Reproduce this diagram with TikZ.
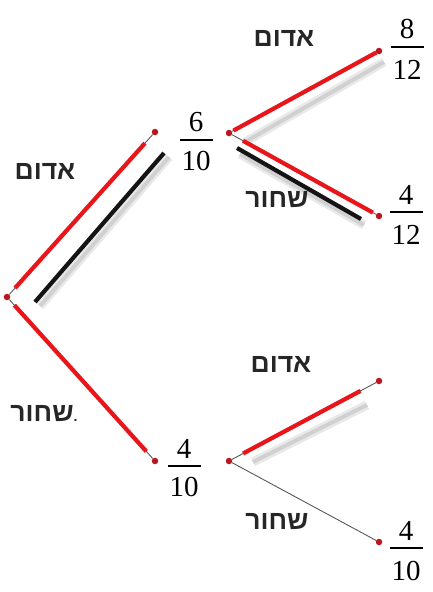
\documentclass[tikz,border=0pt]{standalone}
\usepackage{fontspec}
\setmainfont{Liberation Serif}
\newfontfamily\hebfont[Script=Hebrew]{Liberation Sans}
\TeXXeTstate=1
\usetikzlibrary{positioning}
\definecolor{treered}{RGB}{232,22,26}
\definecolor{dotred}{RGB}{185,22,32}
\tikzset{
  pt/.style={circle,fill=dotred,inner sep=0pt,minimum size=6.5pt},
  link/.style={draw=black!65,line width=0.9pt},
  redline/.style={draw=treered,line width=4.2pt},
  blackline/.style={draw=black!92,line width=4.2pt},
  haze/.style={draw=black!12,line width=9pt,opacity=0.7,
    postaction={draw=black!22,line width=4pt}},
  heb/.style={font=\hebfont\bfseries\fontsize{26.5}{29}\selectfont,inner sep=0pt,text=black!85},
  fracbar/.style={fill=black,inner sep=0pt,minimum width=33pt,minimum height=1.2pt},
  num/.style={font=\fontsize{29}{32}\selectfont,inner sep=0pt},
}
\newcommand{\hebr}[1]{\beginR #1\endR}
\begin{document}
\begin{tikzpicture}[x=1pt,y=-1pt]
\path[use as bounding box] (0,0) rectangle (433,592);
\node[pt] (r) at (7,297) {};
\node[pt] (a) at (155,132) {};
\node[pt] (b) at (155,461) {};
\node[pt] (c) at (229,133) {};
\node[pt] (d) at (229,461) {};
\node[pt] (e1) at (379,51) {};
\node[pt] (e2) at (379,216) {};
\node[pt] (e3) at (379,381) {};
\node[pt] (e4) at (379,542) {};
\coordinate (k1) at (35,302);
\coordinate (k2) at (164,153);
\coordinate (k3) at (237,148);
\coordinate (k4) at (361,219);
\draw[haze] ([shift={(5,4)}]k1) -- ([shift={(5,4)}]k2);
\draw[haze] ([shift={(3,6)}]k3) -- ([shift={(3,6)}]k4);
\draw[haze] (245,142) -- (384,62);
\draw[haze] (253,462) -- (367,405);
\draw[link] (r) -- (a);
\draw[link] (r) -- (b);
\draw[link] (c) -- (e1);
\draw[link] (c) -- (e2);
\draw[link] (d) -- (e3);
\draw[link] (d) -- (e4);
\draw[blackline] (k1) -- (k2);
\draw[blackline] (k3) -- (k4);
\draw[redline,shorten <=12pt,shorten >=15pt] (r.center) -- (a.center);
\draw[redline,shorten <=11pt,shorten >=13pt] (r.center) -- (b.center);
\draw[redline,shorten <=5pt,shorten >=3pt] (c.center) -- (e1.center);
\draw[redline,shorten <=16pt,shorten >=7pt] (c.center) -- (e2.center);
\draw[redline,shorten <=16pt,shorten >=21pt] (d.center) -- (e3.center);
\node[heb] (t1) at (45,171) {\hebr{אדום}};
\node[heb] (t2) at (44,414) {\hebr{שחור}\hbox{\fontsize{14}{16}\selectfont.}};
\node[heb] (t3) at (284,38) {\hebr{אדום}};
\node[heb] (t4) at (277,200) {\hebr{שחור}};
\node[heb] (t5) at (281,364) {\hebr{אדום}};
\node[heb] (t6) at (277,522) {\hebr{שחור}};
\node[fracbar] (f1) at (196,140) {};
\node[num,above=7pt of f1] (f1n) {6};
\node[num,below=10pt of f1] (f1d) {10};
\node[fracbar] (f2) at (184,466) {};
\node[num,above=7pt of f2] (f2n) {4};
\node[num,below=10pt of f2] (f2d) {10};
\node[fracbar] (f3) at (407,47) {};
\node[num,above=7pt of f3] (f3n) {8};
\node[num,below=12pt of f3] (f3d) {12};
\node[fracbar] (f4) at (406,212) {};
\node[num,above=7pt of f4] (f4n) {4};
\node[num,below=12pt of f4] (f4d) {12};
\node[fracbar] (f5) at (406,548) {};
\node[num,above=7pt of f5] (f5n) {4};
\node[num,below=12pt of f5] (f5d) {10};
\end{tikzpicture}
\end{document}
